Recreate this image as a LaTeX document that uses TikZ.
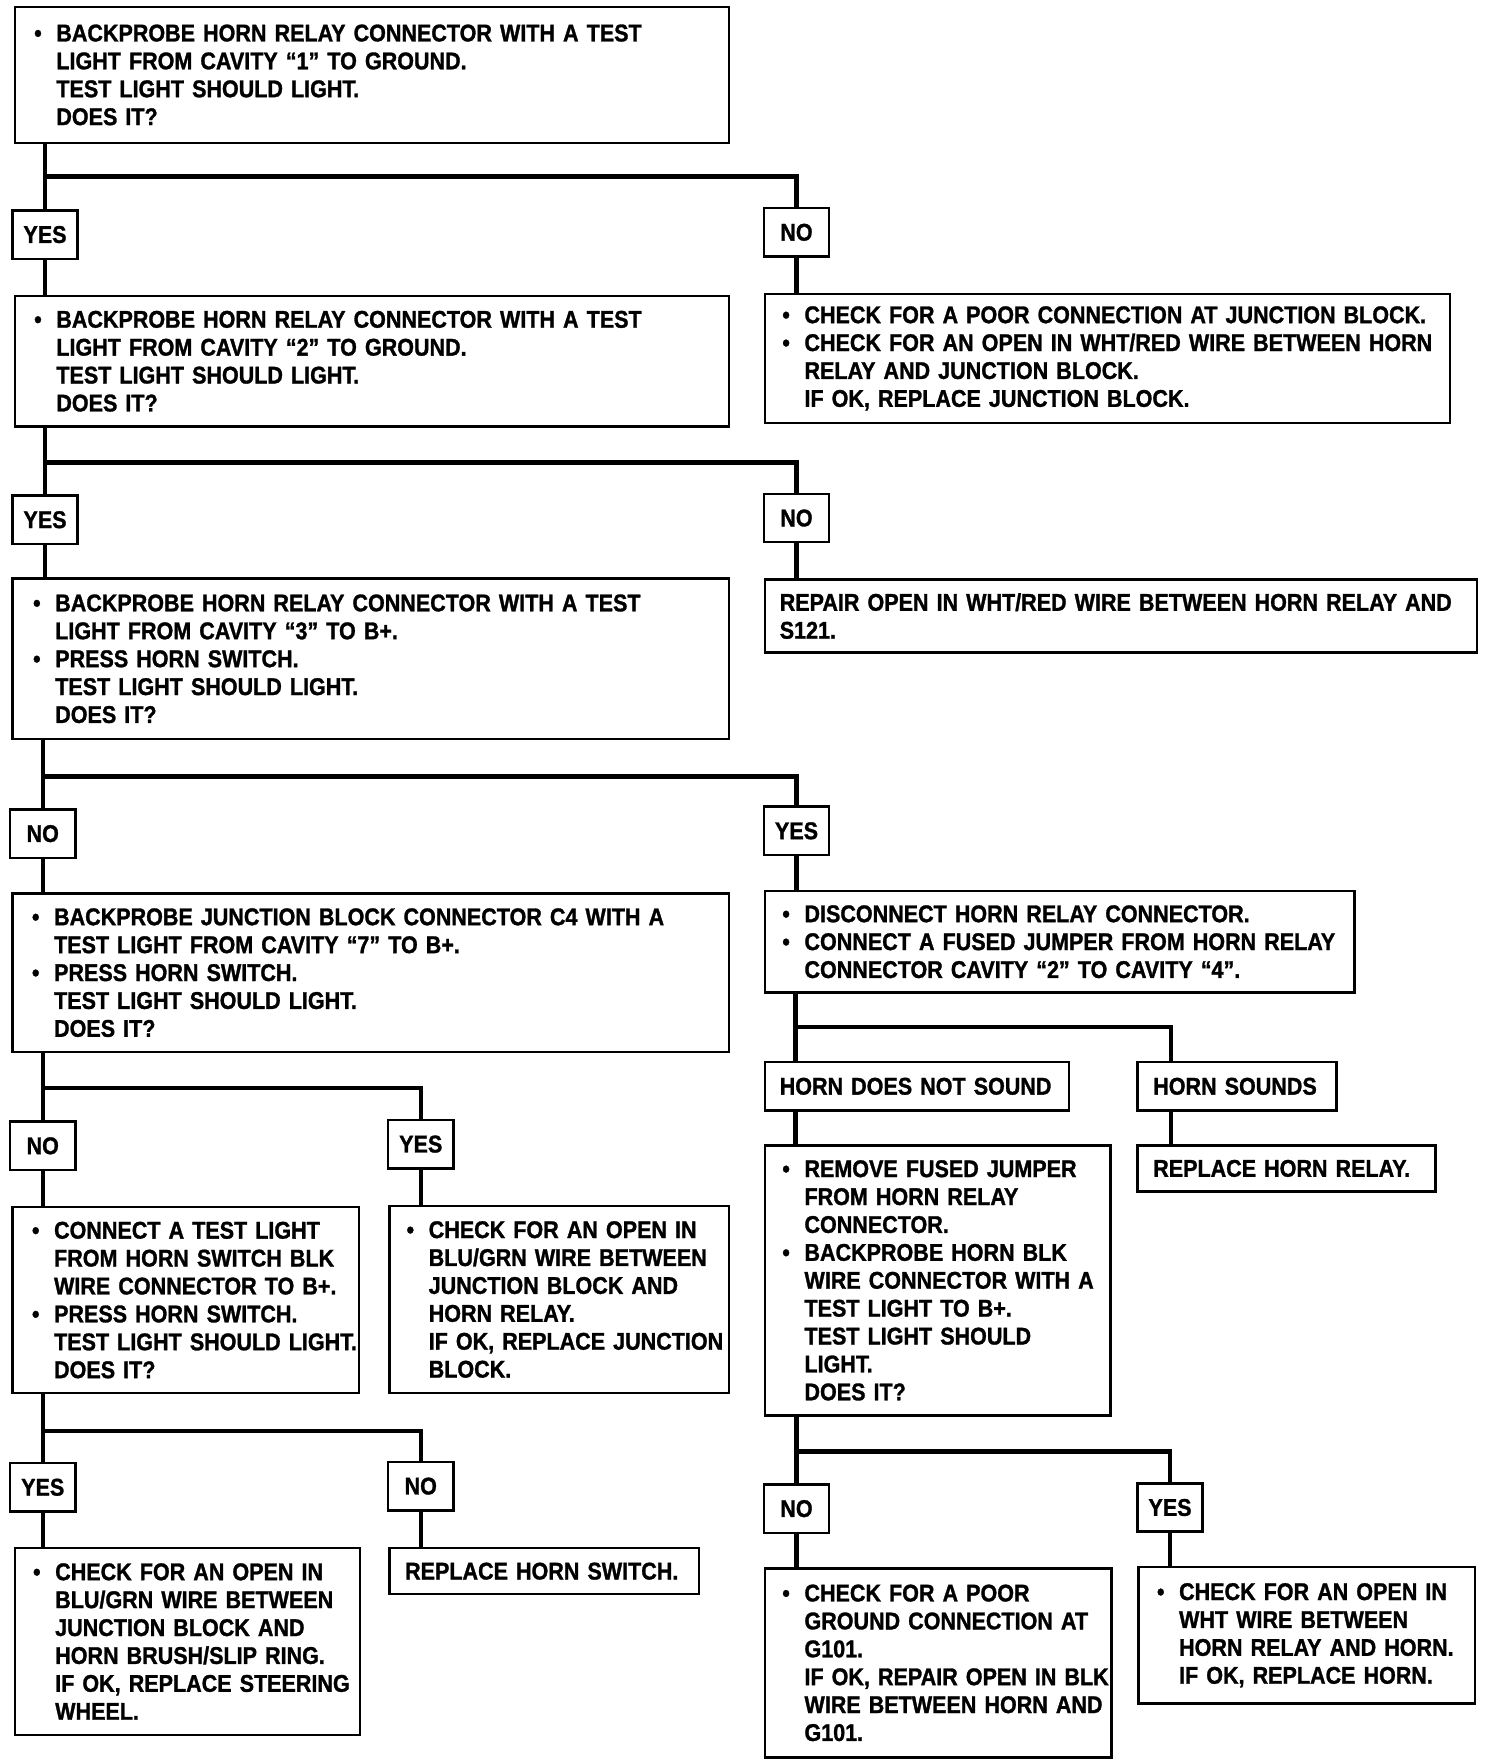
\documentclass[tikz,border=0pt]{standalone}
\usepackage{fontspec}
\setmainfont{Liberation Sans}[FakeStretch=0.89,FakeBold=1.2]
\newcommand\bu{\leavevmode\llap{\textbullet\hspace{13pt}}}
\newcommand\lsk[1]{\leftskip=#1pt\rightskip=-200pt plus 1fil\relax}
\begin{document}
\begin{tikzpicture}[x=1pt,y=-1pt,
  every node/.style={font=\fontsize{21.5pt}{24.8pt}\selectfont\bfseries},
  box/.style={draw, line width=2.2pt, inner xsep=0pt, inner ysep=0pt, align=left, anchor=north west},
  lab/.style={draw, line width=2.2pt, minimum width=58pt, minimum height=43pt, inner sep=0pt},
  conn/.style={line width=4pt}]
\useasboundingbox[fill=white] (0,0) rectangle (1323,1568);

% ---------- boxes ----------
\node[box, text width=635pt, minimum height=121pt] (b1) at (12,5) {\lsk{37}\bu BACKPROBE HORN RELAY CONNECTOR WITH A TEST\\ LIGHT FROM CAVITY “1” TO GROUND.\\ TEST LIGHT SHOULD LIGHT.\\ DOES IT?\par};
\node[box, text width=635pt, minimum height=116pt] (b2) at (12,262) {\lsk{37}\bu BACKPROBE HORN RELAY CONNECTOR WITH A TEST\\ LIGHT FROM CAVITY “2” TO GROUND.\\ TEST LIGHT SHOULD LIGHT.\\ DOES IT?\par};
\node[box, text width=609pt, minimum height=115pt] (r1) at (679,260) {\lsk{35}\bu CHECK FOR A POOR CONNECTION AT JUNCTION BLOCK.\\ \bu CHECK FOR AN OPEN IN WHT/RED WIRE BETWEEN HORN\\ RELAY AND JUNCTION BLOCK.\\ IF OK, REPLACE JUNCTION BLOCK.\par};
\node[box, text width=637pt, minimum height=143pt] (b3) at (10,513) {\lsk{38}\bu BACKPROBE HORN RELAY CONNECTOR WITH A TEST\\ LIGHT FROM CAVITY “3” TO B+.\\ \bu PRESS HORN SWITCH.\\ TEST LIGHT SHOULD LIGHT.\\ DOES IT?\par};
\node[box, text width=633pt, minimum height=65pt] (r2) at (679,514) {\lsk{13}REPAIR OPEN IN WHT/RED WIRE BETWEEN HORN RELAY AND\\ S121.\par};
\node[box, text width=637pt, minimum height=141pt] (b4) at (10,793) {\lsk{37}\bu BACKPROBE JUNCTION BLOCK CONNECTOR C4 WITH A\\ TEST LIGHT FROM CAVITY “7” TO B+.\\ \bu PRESS HORN SWITCH.\\ TEST LIGHT SHOULD LIGHT.\\ DOES IT?\par};
\node[box, text width=524pt, minimum height=90pt] (r3) at (679,791) {\lsk{35}\bu DISCONNECT HORN RELAY CONNECTOR.\\ \bu CONNECT A FUSED JUMPER FROM HORN RELAY\\ CONNECTOR CAVITY “2” TO CAVITY “4”.\par};
\node[box, text width=270pt, minimum height=43pt] (hdns) at (679,943) {\lsk{13}HORN DOES NOT SOUND\par};
\node[box, text width=177pt, minimum height=43pt] (hs) at (1010,943) {\lsk{14}HORN SOUNDS\par};
\node[box, text width=265pt, minimum height=41pt] (rhr) at (1010,1017) {\lsk{14}REPLACE HORN RELAY.\par};
\node[box, text width=307pt, minimum height=240pt] (rem) at (679,1017) {\lsk{35}\bu REMOVE FUSED JUMPER\\ FROM HORN RELAY\\ CONNECTOR.\\ \bu BACKPROBE HORN BLK\\ WIRE CONNECTOR WITH A\\ TEST LIGHT TO B+.\\ TEST LIGHT SHOULD\\ LIGHT.\\ DOES IT?\par};
\node[box, text width=308pt, minimum height=168pt] (g101) at (679,1393) {\lsk{35}\bu CHECK FOR A POOR\\ GROUND CONNECTION AT\\ G101.\\ IF OK, REPAIR OPEN IN BLK\\ WIRE BETWEEN HORN AND\\ G101.\par};
\node[box, text width=299pt, minimum height=121pt] (wht) at (1011,1392) {\lsk{36}\bu CHECK FOR AN OPEN IN\\ WHT WIRE BETWEEN\\ HORN RELAY AND HORN.\\ IF OK, REPLACE HORN.\par};
\node[box, text width=308pt, minimum height=165pt] (ctl) at (10,1072) {\lsk{37}\bu CONNECT A TEST LIGHT\\ FROM HORN SWITCH BLK\\ WIRE CONNECTOR TO B+.\\ \bu PRESS HORN SWITCH.\\ TEST LIGHT SHOULD LIGHT.\\ DOES IT?\par};
\node[box, text width=302pt, minimum height=166pt] (blu) at (345,1071) {\lsk{35}\bu CHECK FOR AN OPEN IN\\ BLU/GRN WIRE BETWEEN\\ JUNCTION BLOCK AND\\ HORN RELAY.\\ IF OK, REPLACE JUNCTION\\ BLOCK.\par};
\node[box, text width=307pt, minimum height=166pt] (ste) at (12,1375) {\lsk{36}\bu CHECK FOR AN OPEN IN\\ BLU/GRN WIRE BETWEEN\\ JUNCTION BLOCK AND\\ HORN BRUSH/SLIP RING.\\ IF OK, REPLACE STEERING\\ WHEEL.\par};
\node[box, text width=275pt, minimum height=41pt] (rhs) at (345,1375) {\lsk{14}REPLACE HORN SWITCH.\par};

% ---------- labels ----------
\node[lab] (yes1) at (40,208.5) {YES};
\node[lab] (no1) at (708,206.5) {NO};
\node[lab] (yes2) at (40,462) {YES};
\node[lab] (no2) at (708,460.5) {NO};
\node[lab] (no3) at (38,741) {NO};
\node[lab] (yes3) at (708,738.5) {YES};
\node[lab] (no6) at (38,1018.5) {NO};
\node[lab] (yes6) at (374,1017) {YES};
\node[lab] (yes7) at (38,1322) {YES};
\node[lab] (no7) at (374,1321) {NO};
\node[lab] (no5) at (708,1341) {NO};
\node[lab] (yes5) at (1040,1340) {YES};

% ---------- junctions ----------
\coordinate (j1) at (40,157);
\coordinate (j2) at (40,411);
\coordinate (j3) at (38,690);
\coordinate (j4) at (707,913);
\coordinate (c4) at (1041,913);
\coordinate (j5) at (707,1290);
\coordinate (c5) at (1041,1290);
\coordinate (j6) at (38,967);
\coordinate (c6) at (374,967);
\coordinate (j7) at (38,1272);
\coordinate (c7) at (374,1272);

% ---------- connectors ----------
\draw[conn] (b1.south -| yes1) -- (yes1.north);
\draw[conn] (j1) -| (no1.north);
\draw[conn] (yes1.south) -- (yes1.south |- b2.north);
\draw[conn] (no1.south) -- (no1.south |- r1.north);

\draw[conn] (b2.south -| yes2) -- (yes2.north);
\draw[conn] (j2) -| (no2.north);
\draw[conn] (yes2.south) -- (yes2.south |- b3.north);
\draw[conn] (no2.south) -- (no2.south |- r2.north);

\draw[conn] (b3.south -| no3) -- (no3.north);
\draw[conn] (j3) -| (yes3.north);
\draw[conn] (no3.south) -- (no3.south |- b4.north);
\draw[conn] (yes3.south) -- (yes3.south |- r3.north);

\draw[conn] (r3.south -| j4) -- (j4 |- hdns.north);
\draw[conn] (j4) -- (c4) -- (c4 |- hs.north);
\draw[conn] (hdns.south -| j4) -- (j4 |- rem.north);
\draw[conn] (hs.south -| c4) -- (c4 |- rhr.north);

\draw[conn] (rem.south -| no5) -- (no5.north);
\draw[conn] (j5) -| (yes5.north);
\draw[conn] (no5.south) -- (no5.south |- g101.north);
\draw[conn] (yes5.south) -- (yes5.south |- wht.north);

\draw[conn] (b4.south -| no6) -- (no6.north);
\draw[conn] (j6) -| (yes6.north);
\draw[conn] (no6.south) -- (no6.south |- ctl.north);
\draw[conn] (yes6.south) -- (yes6.south |- blu.north);

\draw[conn] (ctl.south -| yes7) -- (yes7.north);
\draw[conn] (j7) -| (no7.north);
\draw[conn] (yes7.south) -- (yes7.south |- ste.north);
\draw[conn] (no7.south) -- (no7.south |- rhs.north);
\end{tikzpicture}
\end{document}
